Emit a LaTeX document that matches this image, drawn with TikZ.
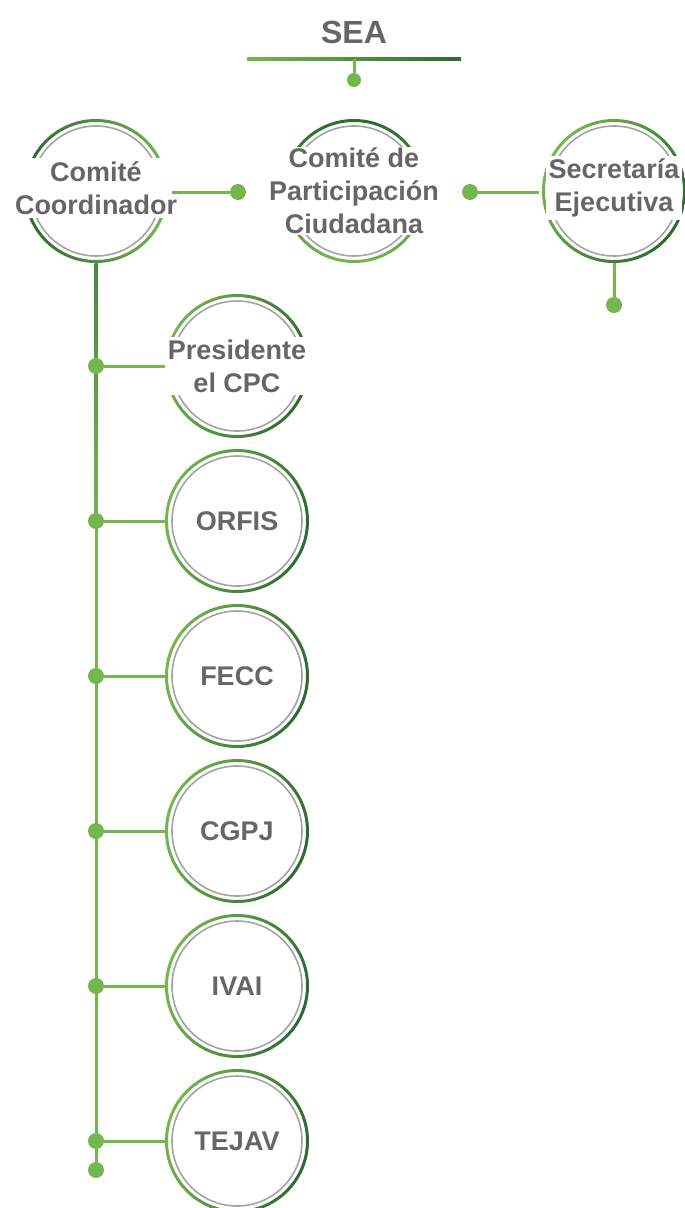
\documentclass[tikz,border=0pt]{standalone}
\usepackage{fontspec}
\setmainfont{Liberation Sans}
\definecolor{lg}{HTML}{74B74F}
\definecolor{dg}{HTML}{2C6A2E}
\definecolor{tg}{HTML}{666666}
\definecolor{rg}{HTML}{A3A3A3}
\newcommand\ringat[2]{%
  \shade[#2, even odd rule] (#1.center) circle[radius=72pt] circle[radius=69pt];
  \draw[rg, line width=1.6pt] (#1.center) circle[radius=65pt];}
\begin{document}
\begin{tikzpicture}[x=1pt,y=-1pt,
  lbl/.style={font=\fontsize{27}{33}\selectfont\bfseries, text=tg, align=center, fill=white, inner xsep=3pt, inner ysep=3pt},
  ringnode/.style={circle, minimum size=144pt, inner sep=0pt},
  conn/.style={lg, line width=3pt},
  dotc/.style={circle, fill=lg, minimum size=16pt, inner sep=0pt},
  lightleft/.style={top color=lg, bottom color=dg, shading angle=75},
]
\useasboundingbox (0,0) rectangle (685,1208);

% title
\node[font=\fontsize{32}{36}\selectfont\bfseries, text=tg] (sea) at (354,32) {SEA};
\shade[top color=lg, bottom color=dg, shading angle=90] (247,57.5) rectangle (461,60.5);
\coordinate (seal) at (354,59);
\node[dotc, minimum size=14pt] (seadot) at (354,80) {};
\draw[conn] (seal) -- (seadot);

% top row rings
\node[ringnode] (ccr) at (96,191) {};
\node[ringnode] (cpcr) at (354,191) {};
\node[ringnode] (ser) at (614,191) {};
\ringat{ccr}{top color=dg, bottom color=lg, shading angle=90}
\ringat{cpcr}{top color=dg, bottom color=lg, shading angle=0}
\ringat{ser}{top color=lg, bottom color=dg, shading angle=60}

% trunk
\node[dotc] (dend) at (96,1170) {};
\draw[conn] (ccr.south) -- (dend);
\shade[top color=dg!60!lg, bottom color=lg] (94.5,263) rectangle (97.5,520);

% children
\foreach \n/\y in {pres/366, orfis/521, fecc/676, cgpj/831, ivai/986, tejav/1141}{
  \node[ringnode] (\n r) at (237,\y) {};
  \ringat{\n r}{lightleft}
  \node[dotc] (\n d) at (96,\y) {};
}
\foreach \n in {orfis, fecc, cgpj, ivai, tejav}{
  \draw[conn] (\n d) -- (\n r.west);
}

% text nodes
\node[lbl] (cc) at (96,188) {Comité\\Coordinador};
\node[lbl, inner ysep=1pt] (cpc) at (354,191) {Comité de\\Participación\\Ciudadana};
\node[lbl] (se) at (614,188) {Secretaría\\Ejecutiva};
\node[lbl] (pres) at (237,366) {Presidente\\el CPC};
\node[lbl, fill=none] (orfis) at (237,521) {ORFIS};
\node[lbl, fill=none] (fecc) at (237,676) {FECC};
\node[lbl, fill=none] (cgpj) at (237,831) {CGPJ};
\node[lbl, fill=none] (ivai) at (237,986) {IVAI};
\node[lbl, fill=none] (tejav) at (237,1141) {TEJAV};

\draw[conn] (presd) -- (pres.west |- presd);

% top connectors
\coordinate (cce) at (172,192);
\node[dotc] (d1) at (238,192) {};
\draw[conn] (cce) -- (d1);
\node[dotc] (d2) at (470,192) {};
\coordinate (sew) at (539,192);
\draw[conn] (d2) -- (sew);
\node[dotc] (d3) at (614,305) {};
\draw[conn] (ser.south) -- (d3);
\end{tikzpicture}
\end{document}
